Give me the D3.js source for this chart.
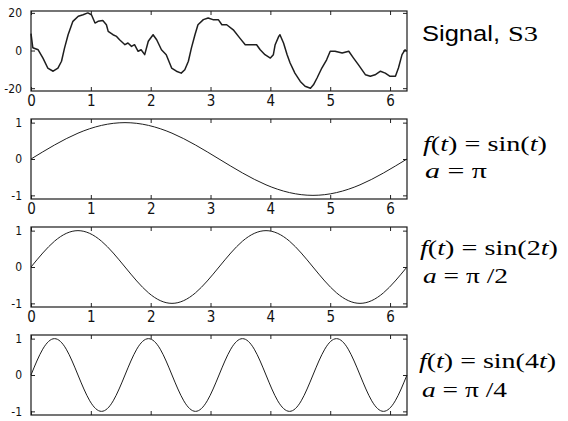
<!DOCTYPE html>
<html>
<head>
<meta charset="utf-8">
<script src="https://cdn.jsdelivr.net/npm/d3@7"></script>
<style>
  html, body { margin: 0; padding: 0; background: #fff; }
  svg { display: block; }
  .tick text { font-family: "Liberation Sans Narrow", "DejaVu Sans Condensed", "DejaVu Sans", sans-serif; font-stretch: condensed; fill: #111; }
</style>
</head>
<body>
<svg id="chart" width="568" height="421"></svg>
<script>
// ---------------- data ----------------
const xTicks = [0, 1, 2, 3, 4, 5, 6];
const signalTicks = [-20, 0, 20];
const sineTicks = [-1, 0, 1];

// Signal S3 (t, value)
const signalT = [0.00,0.03,0.12,0.20,0.28,0.37,0.45,0.51,0.56,0.62,0.70,0.79,0.87,0.95,1.01,1.07,1.12,1.20,1.26,1.29,1.37,1.43,1.48,1.57,1.62,1.68,1.73,1.79,1.84,1.90,1.96,2.04,2.10,2.18,2.26,2.35,2.43,2.51,2.57,2.63,2.68,2.74,2.79,2.88,2.96,3.04,3.13,3.19,3.27,3.38,3.49,3.58,3.69,3.77,3.83,3.91,4.00,4.05,4.08,4.14,4.16,4.22,4.28,4.33,4.41,4.50,4.58,4.67,4.72,4.78,4.86,4.94,5.00,5.08,5.20,5.31,5.39,5.47,5.59,5.67,5.75,5.84,5.92,6.00,6.09,6.14,6.20,6.25,6.28];
const signalV = [9.0,1.5,0.4,-4.0,-9.3,-11.0,-9.3,-5.7,1.3,8.4,15.5,18.2,19.0,20.0,19.0,14.6,15.5,15.9,13.7,10.2,8.4,7.5,5.7,3.1,4.0,2.2,3.1,-0.4,0.4,-2.2,4.9,8.4,5.7,0.4,-2.2,-9.3,-11.0,-12.0,-10.2,-5.7,1.3,8.4,13.7,16.4,17.3,16.4,16.4,13.7,13.7,11.0,6.6,3.1,3.1,3.1,0.4,-2.2,-4.0,-2.2,3.1,7.5,8.4,4.0,-2.2,-6.6,-12.0,-16.4,-19.0,-20.0,-18.2,-14.6,-9.3,-4.9,-0.4,-0.4,-1.3,-0.4,-4.0,-7.5,-12.9,-13.7,-12.9,-11.0,-12.0,-13.7,-13.7,-9.3,-2.2,0.4,-0.4];

// f(t) = sin(t): samples every pi/4
const sin1T = [0,0.785,1.571,2.356,3.142,3.927,4.712,5.498,6.283];
const sin1V = [0,0.71,1,0.71,0,-0.71,-1,-0.71,0];
// f(t) = sin(2t): samples every pi/8
const sin2T = [0,0.393,0.785,1.178,1.571,1.963,2.356,2.749,3.142,3.534,3.927,4.320,4.712,5.105,5.498,5.890,6.283];
const sin2V = [0,0.71,1,0.71,0,-0.71,-1,-0.71,0,0.71,1,0.71,0,-0.71,-1,-0.71,0];
// f(t) = sin(4t): samples every pi/16
const sin4T = [0,0.196,0.393,0.589,0.785,0.982,1.178,1.374,1.571,1.767,1.963,2.160,2.356,2.553,2.749,2.945,3.142,3.338,3.534,3.731,3.927,4.123,4.320,4.516,4.712,4.909,5.105,5.301,5.498,5.694,5.890,6.087,6.283];
const sin4V = [0,0.71,1,0.71,0,-0.71,-1,-0.71,0,0.71,1,0.71,0,-0.71,-1,-0.71,0,0.71,1,0.71,0,-0.71,-1,-0.71,0,0.71,1,0.71,0,-0.71,-1,-0.71,0];

// right-hand labels
const titleSignal = ["Signal,", "S3"];
const formula1 = [["f",1],["(",0],["t",1],[") = sin(",0],["t",1],[")",0]];
const formula2 = [["f",1],["(",0],["t",1],[") = sin(2",0],["t",1],[")",0]];
const formula4 = [["f",1],["(",0],["t",1],[") = sin(4",0],["t",1],[")",0]];
const alpha1 = [["a",1],[" = π",0]];
const alpha2 = [["a",1],[" = π /2",0]];
const alpha4 = [["a",1],[" = π /4",0]];

// ---------------- layout ----------------
const svg = d3.select("#chart");
const left = 31, right = 407, ph = 80;
const x = d3.scaleLinear().domain([0, 2 * Math.PI]).range([left, right]);

const panels = [
  {top: 11,  T: signalT, V: signalV, dom: [-21.5, 21], yt: signalTicks, xl: true, curve: d3.curveLinear, sw: 1.5,
   f: null, fy: 0, a: null, ay: 0},
  {top: 119, T: sin1T, V: sin1V, dom: [-1.1, 1.1], yt: sineTicks, xl: true, curve: d3.curveNatural, sw: 1,
   f: formula1, fx: 423, fy: 151, fl: 124, a: alpha1, ax: 425, ay: 178, al: 62},
  {top: 227, T: sin2T, V: sin2V, dom: [-1.1, 1.1], yt: sineTicks, xl: true, curve: d3.curveNatural, sw: 1,
   f: formula2, fx: 420, fy: 255, fl: 138, a: alpha2, ax: 423, ay: 283, al: 85},
  {top: 335, T: sin4T, V: sin4V, dom: [-1.1, 1.1], yt: sineTicks, xl: false, curve: d3.curveNatural, sw: 1,
   f: formula4, fx: 419, fy: 368, fl: 137, a: alpha4, ax: 422, ay: 397, al: 85}
];

panels.forEach(p => {
  const y = d3.scaleLinear().domain(p.dom).range([p.top + ph, p.top]);
  const g = svg.append("g");

  // curve
  const pts = p.T.map((t, i) => [t, p.V[i]]);
  g.append("path")
    .attr("d", d3.line().x(d => x(d[0])).y(d => y(d[1])).curve(p.curve)(pts))
    .attr("fill", "none").attr("stroke", "#1e1e1e").attr("stroke-width", p.sw)
    .attr("stroke-linejoin", "round");

  // axes with inward ticks
  const bottom = g.append("g").attr("transform", `translate(0,${p.top + ph})`)
    .call(d3.axisBottom(x).tickValues(xTicks).tickSize(-4).tickPadding(4)
      .tickFormat(p.xl ? d3.format("d") : () => ""));
  const top = g.append("g").attr("transform", `translate(0,${p.top})`)
    .call(d3.axisTop(x).tickValues(xTicks).tickSize(-4).tickFormat(() => ""));
  const leftAx = g.append("g").attr("transform", `translate(${left},0)`)
    .call(d3.axisLeft(y).tickValues(p.yt).tickSize(-4).tickPadding(9)
      .tickFormat(d => d < 0 ? "-" + Math.abs(d) : String(d)));
  const rightAx = g.append("g").attr("transform", `translate(${right},0)`)
    .call(d3.axisRight(y).tickValues(p.yt).tickSize(-4).tickFormat(() => ""));
  [bottom, top, leftAx, rightAx].forEach(a => {
    a.select(".domain").remove();
    a.selectAll(".tick line").attr("stroke", "#222").attr("stroke-width", 1);
  });
  bottom.selectAll("text").style("font-size", "15px");
  leftAx.selectAll("text").style("font-size", "12px");

  // frame
  g.append("rect").attr("x", left).attr("y", p.top).attr("width", right - left).attr("height", ph)
    .attr("fill", "none").attr("stroke", "#1a1a1a").attr("stroke-width", 1.2);

  // formula text
  const addRich = (parts, tx, ty, len) => {
    const t = svg.append("text").attr("x", tx).attr("y", ty)
      .attr("textLength", len).attr("lengthAdjust", "spacingAndGlyphs")
      .style("font-family", "'Liberation Serif', 'Times New Roman', serif")
      .style("font-size", "21px").attr("fill", "#000")
      .attr("xml:space", "preserve");
    parts.forEach(([s, it]) => t.append("tspan").text(s).style("font-style", it ? "italic" : "normal"));
  };
  if (p.f) addRich(p.f, p.fx, p.fy, p.fl);
  if (p.a) addRich(p.a, p.ax, p.ay, p.al);
});

// Signal title
svg.append("text").attr("x", 422).attr("y", 41).text(titleSignal[0])
  .attr("textLength", 78).attr("lengthAdjust", "spacingAndGlyphs")
  .style("font-family", "'Liberation Sans', Arial, sans-serif").style("font-size", "22px").attr("fill", "#000");
svg.append("text").attr("x", 508).attr("y", 41).text(titleSignal[1])
  .attr("textLength", 30).attr("lengthAdjust", "spacingAndGlyphs")
  .style("font-family", "'Liberation Serif', 'Times New Roman', serif").style("font-size", "21px").attr("fill", "#000");
</script>
</body>
</html>
